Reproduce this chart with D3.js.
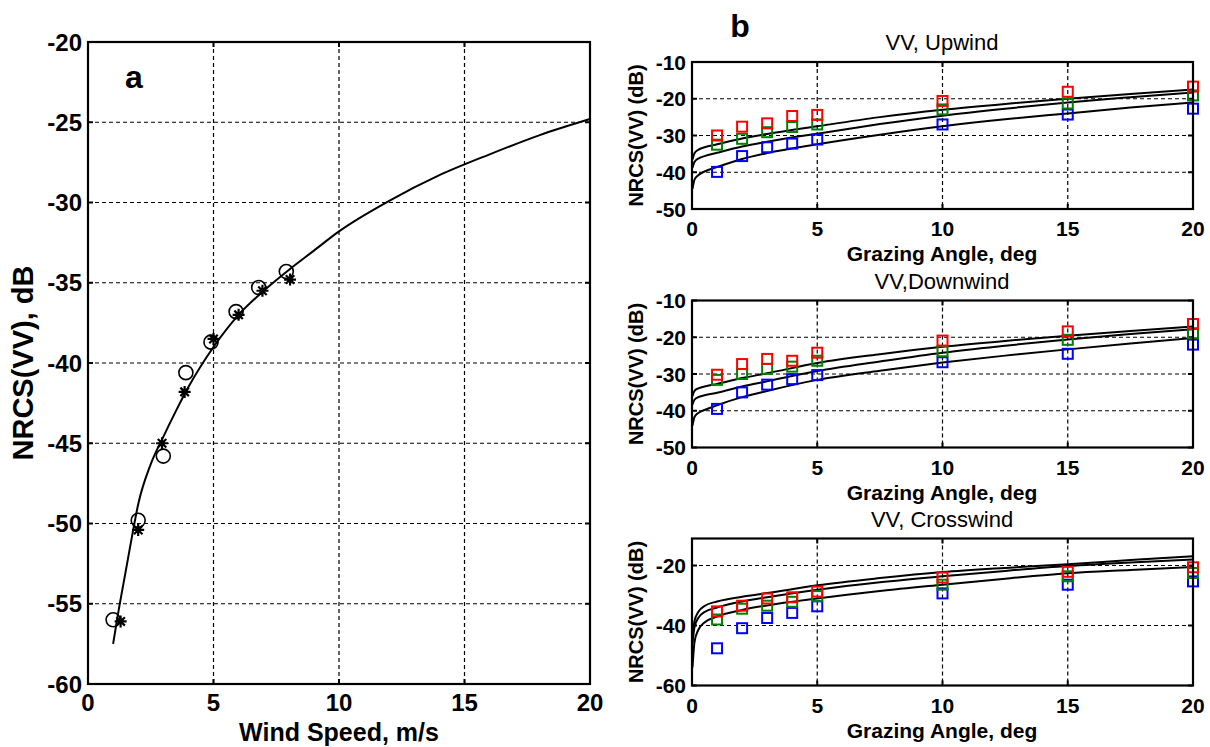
<!DOCTYPE html>
<html>
<head>
<meta charset="utf-8">
<script src="https://cdn.jsdelivr.net/npm/d3@7"></script>
<style>
  body { margin: 0; background: #fff; }
  svg { font-family: "Liberation Sans", Arial, sans-serif; }
</style>
</head>
<body>
<div id="chart"></div>
<script>
// ---- panel a: NRCS vs wind speed ----
const windCircleX = [1.0, 2.0, 3.0, 3.9, 4.9, 5.9, 6.8, 7.9];
const windCircleY = [-56.0, -49.8, -45.8, -40.6, -38.7, -36.8, -35.3, -34.3];
const windStarX = [1.3, 2.0, 2.95, 3.85, 5.0, 6.0, 6.95, 8.05];
const windStarY = [-56.1, -50.4, -45.0, -41.8, -38.5, -37.0, -35.5, -34.8];
const fitWindX = [1.0, 1.2, 1.5, 1.8, 2.0, 2.5, 3.0, 3.5, 4.0, 5.0, 6.0, 7.0, 8.0, 9.0, 10, 12, 14, 16, 18, 20];
const fitWindY = [-57.5, -55.6, -53.0, -50.4, -48.8, -46.3, -44.6, -43.0, -41.5, -39.0, -37.0, -35.5, -34.2, -33.0, -31.8, -29.9, -28.3, -27.0, -25.8, -24.8];
const windTicksX = [0, 5, 10, 15, 20];
const windTicksY = [-60, -55, -50, -45, -40, -35, -30, -25, -20];

// ---- panel b: NRCS vs grazing angle ----
const angles = [1, 2, 3, 4, 5, 10, 15, 20];
const upRed   = [-30.0, -27.6, -26.7, -24.7, -24.4, -20.6, -18.1, -16.7];
const upGreen = [-32.5, -30.9, -29.1, -27.7, -27.0, -22.9, -21.3, -19.1];
const upBlue  = [-39.9, -35.6, -33.2, -32.2, -31.1, -27.0, -24.3, -22.7];
const downRed   = [-30.2, -27.3, -25.9, -26.4, -24.2, -20.9, -18.4, -16.4];
const downGreen = [-31.6, -30.0, -28.6, -28.0, -26.4, -23.8, -20.7, -18.9];
const downBlue  = [-39.5, -35.0, -32.9, -31.4, -30.3, -26.8, -24.5, -22.0];
const crossRed   = [-35.3, -33.4, -31.0, -30.6, -28.7, -24.0, -22.1, -20.6];
const crossGreen = [-38.0, -34.4, -33.4, -32.1, -30.2, -26.4, -23.6, -22.5];
const crossBlue  = [-47.6, -40.9, -37.5, -35.8, -33.6, -29.3, -26.4, -25.3];

const lineAngles = [0.02, 0.1, 0.25, 0.5, 1, 2, 3, 5, 7.5, 10, 12.5, 15, 17.5, 20];
const upFitTop = [-36.5, -34.8, -33.9, -33.2, -32.4, -30.8, -29.6, -27.5, -25.0, -23.0, -21.4, -20.0, -18.7, -17.5];
const upFitMid = [-38.8, -37.2, -36.3, -35.6, -34.7, -33.0, -31.7, -29.5, -26.9, -24.6, -22.7, -21.0, -19.6, -18.3];
const upFitLow = [-44.5, -42.0, -40.8, -39.8, -38.6, -36.4, -34.8, -32.4, -29.8, -27.5, -25.6, -24.0, -22.4, -21.0];
const downFitTop = [-36.0, -34.6, -33.9, -33.4, -32.7, -31.1, -29.8, -27.0, -24.6, -22.6, -21.0, -19.6, -18.3, -17.1];
const downFitMid = [-38.3, -37.0, -36.3, -35.8, -35.1, -33.4, -32.0, -29.2, -26.6, -24.2, -22.3, -20.6, -19.1, -17.8];
const downFitLow = [-44.0, -41.7, -40.6, -39.8, -38.5, -36.3, -34.6, -31.6, -29.1, -26.9, -25.0, -23.3, -21.7, -20.2];
const crossFitTop = [-44.0, -38.5, -35.5, -33.5, -32.0, -30.4, -29.2, -26.6, -24.2, -22.2, -20.8, -19.6, -18.2, -16.9];
const crossFitMid = [-46.0, -40.5, -37.5, -35.5, -34.0, -32.0, -30.6, -28.1, -25.6, -23.6, -21.8, -20.2, -19.0, -18.0];
const crossFitLow = [-54.0, -45.5, -41.5, -39.0, -37.0, -34.8, -33.3, -31.0, -28.5, -26.4, -24.4, -22.6, -21.5, -20.5];

const angleTicksX = [0, 5, 10, 15, 20];
const upDownTicksY = [-50, -40, -30, -20, -10];
const crossTicksY = [-60, -40, -20];

const svg = d3.select("#chart").append("svg")
    .attr("width", 1210)
    .attr("height", 747);

const zip = (xs, ys) => xs.map((x, i) => [x, ys[i]]);

// draws grid, ticks and tick labels, returns the scales
function drawAxes(g, opt) {
    let x = d3.scaleLinear().domain(opt.xDomain).range([opt.left, opt.right]);
    let y = d3.scaleLinear().domain(opt.yDomain).range([opt.bottom, opt.top]);

    // grid
    g.selectAll(".gx").data(opt.xTicks.filter(t => t > opt.xDomain[0] && t < opt.xDomain[1]))
        .enter().append("line")
        .attr("x1", d => x(d)).attr("x2", d => x(d))
        .attr("y1", opt.top).attr("y2", opt.bottom)
        .attr("stroke", "#000").attr("stroke-width", 1.2).attr("stroke-dasharray", "4,3");
    g.selectAll(".gy").data(opt.yTicks.filter(t => t > opt.yDomain[0] && t < opt.yDomain[1]))
        .enter().append("line")
        .attr("x1", opt.left).attr("x2", opt.right)
        .attr("y1", d => y(d)).attr("y2", d => y(d))
        .attr("stroke", "#000").attr("stroke-width", 1.2).attr("stroke-dasharray", "4,3");

    // inward ticks on all four sides
    let tl = opt.tickLen;
    opt.xTicks.forEach(t => {
        g.append("line").attr("x1", x(t)).attr("x2", x(t)).attr("y1", opt.bottom).attr("y2", opt.bottom - tl).attr("stroke", "#000").attr("stroke-width", 2);
        g.append("line").attr("x1", x(t)).attr("x2", x(t)).attr("y1", opt.top).attr("y2", opt.top + tl).attr("stroke", "#000").attr("stroke-width", 2);
    });
    opt.yTicks.forEach(t => {
        g.append("line").attr("x1", opt.left).attr("x2", opt.left + tl).attr("y1", y(t)).attr("y2", y(t)).attr("stroke", "#000").attr("stroke-width", 2);
        g.append("line").attr("x1", opt.right).attr("x2", opt.right - tl).attr("y1", y(t)).attr("y2", y(t)).attr("stroke", "#000").attr("stroke-width", 2);
    });

    // tick labels
    g.selectAll(".lx").data(opt.xTicks).enter().append("text")
        .attr("x", d => x(d)).attr("y", opt.bottom + opt.xLabelOff)
        .attr("text-anchor", "middle")
        .style("font-size", opt.tickFont + "px").style("font-weight", "bold")
        .text(d => d);
    g.selectAll(".ly").data(opt.yTicks).enter().append("text")
        .attr("x", opt.left - 6).attr("y", d => y(d))
        .attr("dy", "0.36em")
        .attr("text-anchor", "end")
        .style("font-size", opt.tickFont + "px").style("font-weight", "bold")
        .text(d => d);

    return {x, y};
}

function drawBox(g, opt) {
    g.append("rect")
        .attr("x", opt.left).attr("y", opt.top)
        .attr("width", opt.right - opt.left).attr("height", opt.bottom - opt.top)
        .attr("fill", "none").attr("stroke", "#000").attr("stroke-width", 2.2);
}

// ---------- panel a ----------
let optA = {
    left: 88, right: 590, top: 42, bottom: 684,
    xDomain: [0, 20], yDomain: [-60, -20],
    xTicks: windTicksX, yTicks: windTicksY,
    tickLen: 5, tickFont: 24, xLabelOff: 27
};
let gA = svg.append("g");
let sA = drawAxes(gA, optA);

let lineA = d3.line().x(d => sA.x(d[0])).y(d => sA.y(d[1])).curve(d3.curveMonotoneX);
gA.append("path")
    .datum(zip(fitWindX, fitWindY))
    .attr("d", lineA)
    .attr("fill", "none").attr("stroke", "#000").attr("stroke-width", 2);

gA.selectAll(".circ").data(zip(windCircleX, windCircleY)).enter().append("circle")
    .attr("cx", d => sA.x(d[0])).attr("cy", d => sA.y(d[1]))
    .attr("r", 7)
    .attr("fill", "none").attr("stroke", "#000").attr("stroke-width", 1.6);

let starPath = (() => {
    let r = 6, p = "";
    for (let k = 0; k < 4; k++) {
        let a = k * Math.PI / 4;
        let dx = r * Math.cos(a), dy = r * Math.sin(a);
        p += `M${-dx},${-dy}L${dx},${dy}`;
    }
    return p;
})();
gA.selectAll(".star").data(zip(windStarX, windStarY)).enter().append("path")
    .attr("transform", d => `translate(${sA.x(d[0])},${sA.y(d[1])})`)
    .attr("d", starPath)
    .attr("fill", "none").attr("stroke", "#000").attr("stroke-width", 2.2);

drawBox(gA, optA);

gA.append("text").attr("x", 134).attr("y", 88)
    .attr("text-anchor", "middle")
    .style("font-size", "32px").style("font-weight", "bold")
    .text("a");
gA.append("text").attr("x", 339).attr("y", 741)
    .attr("text-anchor", "middle")
    .style("font-size", "25px").style("font-weight", "bold")
    .text("Wind Speed, m/s");
gA.append("text")
    .attr("transform", "translate(33,363) rotate(-90)")
    .attr("text-anchor", "middle")
    .style("font-size", "29px").style("font-weight", "bold")
    .text("NRCS(VV), dB");

// ---------- panel b ----------
svg.append("text").attr("x", 740).attr("y", 37)
    .attr("text-anchor", "middle")
    .style("font-size", "32px").style("font-weight", "bold")
    .text("b");

let subplots = [
    {title: "VV, Upwind", top: 62, yDomain: [-50, -10], yTicks: upDownTicksY,
     red: upRed, green: upGreen, blue: upBlue, fits: [upFitTop, upFitMid, upFitLow]},
    {title: "VV,Downwind", top: 300.5, yDomain: [-50, -10], yTicks: upDownTicksY,
     red: downRed, green: downGreen, blue: downBlue, fits: [downFitTop, downFitMid, downFitLow]},
    {title: "VV, Crosswind", top: 538.5, yDomain: [-60, -11], yTicks: crossTicksY,
     red: crossRed, green: crossGreen, blue: crossBlue, fits: [crossFitTop, crossFitMid, crossFitLow]}
];

subplots.forEach(sp => {
    let opt = {
        left: 692, right: 1193, top: sp.top, bottom: sp.top + 147,
        xDomain: [0, 20], yDomain: sp.yDomain,
        xTicks: angleTicksX, yTicks: sp.yTicks,
        tickLen: 5, tickFont: 21, xLabelOff: 27
    };
    let g = svg.append("g");
    let s = drawAxes(g, opt);

    let line = d3.line().x(d => s.x(d[0])).y(d => s.y(d[1])).curve(d3.curveMonotoneX);
    sp.fits.forEach(f => {
        g.append("path")
            .datum(zip(lineAngles, f))
            .attr("d", line)
            .attr("fill", "none").attr("stroke", "#000").attr("stroke-width", 2);
    });

    [[sp.blue, "#0000ff"], [sp.green, "#008000"], [sp.red, "#ff0000"]].forEach(([vals, col]) => {
        g.selectAll(null).data(zip(angles, vals)).enter().append("rect")
            .attr("x", d => s.x(d[0]) - 5).attr("y", d => s.y(d[1]) - 5)
            .attr("width", 10).attr("height", 10)
            .attr("fill", "none").attr("stroke", col).attr("stroke-width", 2);
    });

    drawBox(g, opt);

    g.append("text").attr("x", 942).attr("y", sp.top - 12)
        .attr("text-anchor", "middle")
        .style("font-size", "22px")
        .text(sp.title);
    g.append("text").attr("x", 942).attr("y", sp.top + 147 + 52)
        .attr("text-anchor", "middle")
        .style("font-size", "21px").style("font-weight", "bold")
        .text("Grazing Angle, deg");
    g.append("text")
        .attr("transform", `translate(643,${sp.top + 73.5}) rotate(-90)`)
        .attr("text-anchor", "middle")
        .style("font-size", "20px").style("font-weight", "bold")
        .text("NRCS(VV) (dB)");
});
</script>
</body>
</html>
